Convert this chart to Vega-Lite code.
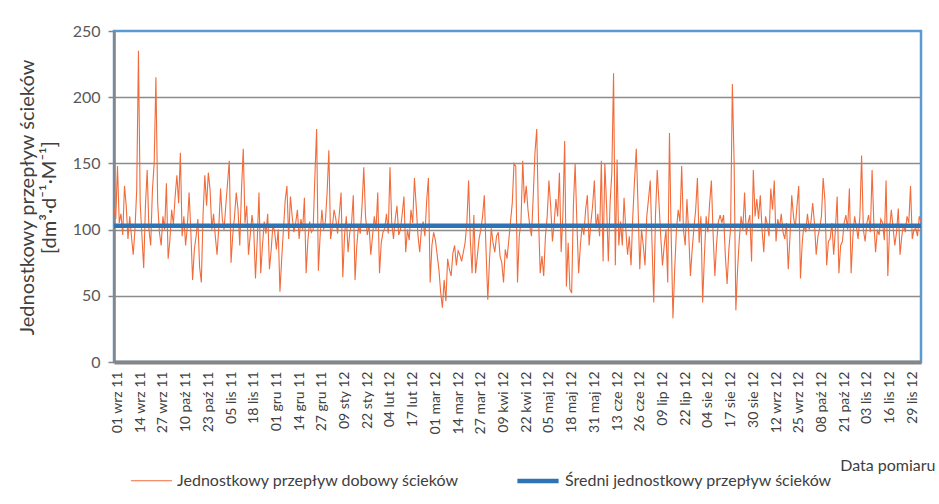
{
  "$schema": "https://vega.github.io/schema/vega-lite/v6.json",
  "width": 807,
  "height": 331,
  "autosize": "none",
  "padding": {"left": 114, "top": 31, "right": 18, "bottom": 142},
  "background": "white",
  "config": {
    "font": "Lato",
    "view": {"stroke": "#5B9BD5", "strokeWidth": 2.5}
  },
  "datasets": {
    "daily": [
      {"d":"2011-08-30","v":116},{"d":"2011-08-31","v":108},
      {"d":"2011-09-01","v":148},{"d":"2011-09-02","v":105},{"d":"2011-09-03","v":112},{"d":"2011-09-04","v":96},{"d":"2011-09-05","v":133},{"d":"2011-09-06","v":118},{"d":"2011-09-07","v":93},{"d":"2011-09-08","v":110},{"d":"2011-09-09","v":95},{"d":"2011-09-10","v":81},{"d":"2011-09-11","v":100},{"d":"2011-09-12","v":130},{"d":"2011-09-13","v":235},{"d":"2011-09-14","v":120},{"d":"2011-09-15","v":95},{"d":"2011-09-16","v":71},{"d":"2011-09-17","v":118},{"d":"2011-09-18","v":145},{"d":"2011-09-19","v":100},{"d":"2011-09-20","v":88},{"d":"2011-09-21","v":130},{"d":"2011-09-22","v":150},{"d":"2011-09-23","v":215},{"d":"2011-09-24","v":120},{"d":"2011-09-25","v":98},{"d":"2011-09-26","v":88},{"d":"2011-09-27","v":110},{"d":"2011-09-28","v":100},{"d":"2011-09-29","v":135},{"d":"2011-09-30","v":78},
      {"d":"2011-10-01","v":92},{"d":"2011-10-02","v":115},{"d":"2011-10-03","v":104},{"d":"2011-10-04","v":125},{"d":"2011-10-05","v":141},{"d":"2011-10-06","v":120},{"d":"2011-10-07","v":158},{"d":"2011-10-08","v":95},{"d":"2011-10-09","v":110},{"d":"2011-10-10","v":88},{"d":"2011-10-11","v":103},{"d":"2011-10-12","v":128},{"d":"2011-10-13","v":98},{"d":"2011-10-14","v":62},{"d":"2011-10-15","v":85},{"d":"2011-10-16","v":95},{"d":"2011-10-17","v":108},{"d":"2011-10-18","v":72},{"d":"2011-10-19","v":60},{"d":"2011-10-20","v":112},{"d":"2011-10-21","v":141},{"d":"2011-10-22","v":118},{"d":"2011-10-23","v":143},{"d":"2011-10-24","v":130},{"d":"2011-10-25","v":100},{"d":"2011-10-26","v":112},{"d":"2011-10-27","v":95},{"d":"2011-10-28","v":81},{"d":"2011-10-29","v":102},{"d":"2011-10-30","v":131},{"d":"2011-10-31","v":108},
      {"d":"2011-11-01","v":100},{"d":"2011-11-02","v":118},{"d":"2011-11-03","v":135},{"d":"2011-11-04","v":152},{"d":"2011-11-05","v":75},{"d":"2011-11-06","v":96},{"d":"2011-11-07","v":110},{"d":"2011-11-08","v":128},{"d":"2011-11-09","v":115},{"d":"2011-11-10","v":88},{"d":"2011-11-11","v":130},{"d":"2011-11-12","v":161},{"d":"2011-11-13","v":105},{"d":"2011-11-14","v":118},{"d":"2011-11-15","v":81},{"d":"2011-11-16","v":96},{"d":"2011-11-17","v":111},{"d":"2011-11-18","v":100},{"d":"2011-11-19","v":63},{"d":"2011-11-20","v":92},{"d":"2011-11-21","v":128},{"d":"2011-11-22","v":67},{"d":"2011-11-23","v":88},{"d":"2011-11-24","v":106},{"d":"2011-11-25","v":97},{"d":"2011-11-26","v":112},{"d":"2011-11-27","v":70},{"d":"2011-11-28","v":85},{"d":"2011-11-29","v":104},{"d":"2011-11-30","v":98},
      {"d":"2011-12-01","v":85},{"d":"2011-12-02","v":100},{"d":"2011-12-03","v":53},{"d":"2011-12-04","v":78},{"d":"2011-12-05","v":100},{"d":"2011-12-06","v":122},{"d":"2011-12-07","v":133},{"d":"2011-12-08","v":93},{"d":"2011-12-09","v":125},{"d":"2011-12-10","v":110},{"d":"2011-12-11","v":98},{"d":"2011-12-12","v":105},{"d":"2011-12-13","v":115},{"d":"2011-12-14","v":93},{"d":"2011-12-15","v":108},{"d":"2011-12-16","v":100},{"d":"2011-12-17","v":124},{"d":"2011-12-18","v":67},{"d":"2011-12-19","v":92},{"d":"2011-12-20","v":106},{"d":"2011-12-21","v":98},{"d":"2011-12-22","v":100},{"d":"2011-12-23","v":140},{"d":"2011-12-24","v":176},{"d":"2011-12-25","v":69},{"d":"2011-12-26","v":95},{"d":"2011-12-27","v":115},{"d":"2011-12-28","v":100},{"d":"2011-12-29","v":106},{"d":"2011-12-30","v":128},{"d":"2011-12-31","v":160},
      {"d":"2012-01-01","v":93},{"d":"2012-01-02","v":102},{"d":"2012-01-03","v":115},{"d":"2012-01-04","v":108},{"d":"2012-01-05","v":97},{"d":"2012-01-06","v":112},{"d":"2012-01-07","v":128},{"d":"2012-01-08","v":64},{"d":"2012-01-09","v":96},{"d":"2012-01-10","v":110},{"d":"2012-01-11","v":83},{"d":"2012-01-12","v":98},{"d":"2012-01-13","v":105},{"d":"2012-01-14","v":126},{"d":"2012-01-15","v":62},{"d":"2012-01-16","v":88},{"d":"2012-01-17","v":103},{"d":"2012-01-18","v":97},{"d":"2012-01-19","v":118},{"d":"2012-01-20","v":147},{"d":"2012-01-21","v":110},{"d":"2012-01-22","v":96},{"d":"2012-01-23","v":104},{"d":"2012-01-24","v":81},{"d":"2012-01-25","v":95},{"d":"2012-01-26","v":110},{"d":"2012-01-27","v":100},{"d":"2012-01-28","v":128},{"d":"2012-01-29","v":67},{"d":"2012-01-30","v":90},{"d":"2012-01-31","v":98},
      {"d":"2012-02-01","v":101},{"d":"2012-02-02","v":112},{"d":"2012-02-03","v":97},{"d":"2012-02-04","v":147},{"d":"2012-02-05","v":105},{"d":"2012-02-06","v":93},{"d":"2012-02-07","v":108},{"d":"2012-02-08","v":118},{"d":"2012-02-09","v":96},{"d":"2012-02-10","v":100},{"d":"2012-02-11","v":112},{"d":"2012-02-12","v":125},{"d":"2012-02-13","v":83},{"d":"2012-02-14","v":100},{"d":"2012-02-15","v":92},{"d":"2012-02-16","v":115},{"d":"2012-02-17","v":105},{"d":"2012-02-18","v":139},{"d":"2012-02-19","v":118},{"d":"2012-02-20","v":96},{"d":"2012-02-21","v":83},{"d":"2012-02-22","v":100},{"d":"2012-02-23","v":106},{"d":"2012-02-24","v":95},{"d":"2012-02-25","v":122},{"d":"2012-02-26","v":139},{"d":"2012-02-27","v":60},{"d":"2012-02-28","v":88},{"d":"2012-02-29","v":98},
      {"d":"2012-03-01","v":92},{"d":"2012-03-02","v":81},{"d":"2012-03-03","v":70},{"d":"2012-03-04","v":53},{"d":"2012-03-05","v":41},{"d":"2012-03-06","v":62},{"d":"2012-03-07","v":46},{"d":"2012-03-08","v":78},{"d":"2012-03-09","v":70},{"d":"2012-03-10","v":65},{"d":"2012-03-11","v":82},{"d":"2012-03-12","v":88},{"d":"2012-03-13","v":73},{"d":"2012-03-14","v":84},{"d":"2012-03-15","v":81},{"d":"2012-03-16","v":76},{"d":"2012-03-17","v":83},{"d":"2012-03-18","v":90},{"d":"2012-03-19","v":105},{"d":"2012-03-20","v":137},{"d":"2012-03-21","v":92},{"d":"2012-03-22","v":67},{"d":"2012-03-23","v":111},{"d":"2012-03-24","v":67},{"d":"2012-03-25","v":80},{"d":"2012-03-26","v":93},{"d":"2012-03-27","v":100},{"d":"2012-03-28","v":110},{"d":"2012-03-29","v":126},{"d":"2012-03-30","v":84},{"d":"2012-03-31","v":47},
      {"d":"2012-04-01","v":78},{"d":"2012-04-02","v":101},{"d":"2012-04-03","v":90},{"d":"2012-04-04","v":83},{"d":"2012-04-05","v":95},{"d":"2012-04-06","v":98},{"d":"2012-04-07","v":80},{"d":"2012-04-08","v":75},{"d":"2012-04-09","v":60},{"d":"2012-04-10","v":85},{"d":"2012-04-11","v":78},{"d":"2012-04-12","v":92},{"d":"2012-04-13","v":106},{"d":"2012-04-14","v":120},{"d":"2012-04-15","v":150},{"d":"2012-04-16","v":148},{"d":"2012-04-17","v":60},{"d":"2012-04-18","v":95},{"d":"2012-04-19","v":106},{"d":"2012-04-20","v":152},{"d":"2012-04-21","v":120},{"d":"2012-04-22","v":133},{"d":"2012-04-23","v":115},{"d":"2012-04-24","v":103},{"d":"2012-04-25","v":95},{"d":"2012-04-26","v":125},{"d":"2012-04-27","v":158},{"d":"2012-04-28","v":176},{"d":"2012-04-29","v":110},{"d":"2012-04-30","v":67},
      {"d":"2012-05-01","v":80},{"d":"2012-05-02","v":65},{"d":"2012-05-03","v":95},{"d":"2012-05-04","v":110},{"d":"2012-05-05","v":137},{"d":"2012-05-06","v":118},{"d":"2012-05-07","v":91},{"d":"2012-05-08","v":105},{"d":"2012-05-09","v":123},{"d":"2012-05-10","v":110},{"d":"2012-05-11","v":143},{"d":"2012-05-12","v":83},{"d":"2012-05-13","v":112},{"d":"2012-05-14","v":167},{"d":"2012-05-15","v":57},{"d":"2012-05-16","v":90},{"d":"2012-05-17","v":55},{"d":"2012-05-18","v":52},{"d":"2012-05-19","v":118},{"d":"2012-05-20","v":150},{"d":"2012-05-21","v":105},{"d":"2012-05-22","v":67},{"d":"2012-05-23","v":88},{"d":"2012-05-24","v":103},{"d":"2012-05-25","v":96},{"d":"2012-05-26","v":115},{"d":"2012-05-27","v":126},{"d":"2012-05-28","v":88},{"d":"2012-05-29","v":105},{"d":"2012-05-30","v":118},{"d":"2012-05-31","v":137},
      {"d":"2012-06-01","v":101},{"d":"2012-06-02","v":112},{"d":"2012-06-03","v":95},{"d":"2012-06-04","v":152},{"d":"2012-06-05","v":76},{"d":"2012-06-06","v":150},{"d":"2012-06-07","v":118},{"d":"2012-06-08","v":76},{"d":"2012-06-09","v":120},{"d":"2012-06-10","v":143},{"d":"2012-06-11","v":218},{"d":"2012-06-12","v":73},{"d":"2012-06-13","v":153},{"d":"2012-06-14","v":88},{"d":"2012-06-15","v":106},{"d":"2012-06-16","v":88},{"d":"2012-06-17","v":124},{"d":"2012-06-18","v":100},{"d":"2012-06-19","v":81},{"d":"2012-06-20","v":95},{"d":"2012-06-21","v":73},{"d":"2012-06-22","v":110},{"d":"2012-06-23","v":137},{"d":"2012-06-24","v":161},{"d":"2012-06-25","v":118},{"d":"2012-06-26","v":70},{"d":"2012-06-27","v":100},{"d":"2012-06-28","v":88},{"d":"2012-06-29","v":73},{"d":"2012-06-30","v":110},
      {"d":"2012-07-01","v":123},{"d":"2012-07-02","v":137},{"d":"2012-07-03","v":90},{"d":"2012-07-04","v":45},{"d":"2012-07-05","v":111},{"d":"2012-07-06","v":145},{"d":"2012-07-07","v":120},{"d":"2012-07-08","v":95},{"d":"2012-07-09","v":73},{"d":"2012-07-10","v":88},{"d":"2012-07-11","v":100},{"d":"2012-07-12","v":60},{"d":"2012-07-13","v":173},{"d":"2012-07-14","v":95},{"d":"2012-07-15","v":33},{"d":"2012-07-16","v":70},{"d":"2012-07-17","v":100},{"d":"2012-07-18","v":115},{"d":"2012-07-19","v":106},{"d":"2012-07-20","v":148},{"d":"2012-07-21","v":100},{"d":"2012-07-22","v":88},{"d":"2012-07-23","v":123},{"d":"2012-07-24","v":98},{"d":"2012-07-25","v":65},{"d":"2012-07-26","v":85},{"d":"2012-07-27","v":101},{"d":"2012-07-28","v":115},{"d":"2012-07-29","v":139},{"d":"2012-07-30","v":90},{"d":"2012-07-31","v":110},
      {"d":"2012-08-01","v":45},{"d":"2012-08-02","v":80},{"d":"2012-08-03","v":110},{"d":"2012-08-04","v":98},{"d":"2012-08-05","v":120},{"d":"2012-08-06","v":137},{"d":"2012-08-07","v":96},{"d":"2012-08-08","v":65},{"d":"2012-08-09","v":90},{"d":"2012-08-10","v":106},{"d":"2012-08-11","v":111},{"d":"2012-08-12","v":105},{"d":"2012-08-13","v":111},{"d":"2012-08-14","v":80},{"d":"2012-08-15","v":59},{"d":"2012-08-16","v":85},{"d":"2012-08-17","v":101},{"d":"2012-08-18","v":210},{"d":"2012-08-19","v":152},{"d":"2012-08-20","v":39},{"d":"2012-08-21","v":70},{"d":"2012-08-22","v":93},{"d":"2012-08-23","v":110},{"d":"2012-08-24","v":100},{"d":"2012-08-25","v":128},{"d":"2012-08-26","v":96},{"d":"2012-08-27","v":105},{"d":"2012-08-28","v":111},{"d":"2012-08-29","v":76},{"d":"2012-08-30","v":145},{"d":"2012-08-31","v":110},
      {"d":"2012-09-01","v":123},{"d":"2012-09-02","v":108},{"d":"2012-09-03","v":126},{"d":"2012-09-04","v":100},{"d":"2012-09-05","v":83},{"d":"2012-09-06","v":110},{"d":"2012-09-07","v":104},{"d":"2012-09-08","v":95},{"d":"2012-09-09","v":131},{"d":"2012-09-10","v":115},{"d":"2012-09-11","v":137},{"d":"2012-09-12","v":91},{"d":"2012-09-13","v":108},{"d":"2012-09-14","v":101},{"d":"2012-09-15","v":112},{"d":"2012-09-16","v":98},{"d":"2012-09-17","v":93},{"d":"2012-09-18","v":105},{"d":"2012-09-19","v":70},{"d":"2012-09-20","v":95},{"d":"2012-09-21","v":126},{"d":"2012-09-22","v":110},{"d":"2012-09-23","v":101},{"d":"2012-09-24","v":118},{"d":"2012-09-25","v":133},{"d":"2012-09-26","v":63},{"d":"2012-09-27","v":90},{"d":"2012-09-28","v":104},{"d":"2012-09-29","v":98},{"d":"2012-09-30","v":112},
      {"d":"2012-10-01","v":100},{"d":"2012-10-02","v":106},{"d":"2012-10-03","v":120},{"d":"2012-10-04","v":105},{"d":"2012-10-05","v":81},{"d":"2012-10-06","v":95},{"d":"2012-10-07","v":101},{"d":"2012-10-08","v":110},{"d":"2012-10-09","v":139},{"d":"2012-10-10","v":122},{"d":"2012-10-11","v":73},{"d":"2012-10-12","v":91},{"d":"2012-10-13","v":93},{"d":"2012-10-14","v":105},{"d":"2012-10-15","v":81},{"d":"2012-10-16","v":100},{"d":"2012-10-17","v":125},{"d":"2012-10-18","v":67},{"d":"2012-10-19","v":88},{"d":"2012-10-20","v":91},{"d":"2012-10-21","v":105},{"d":"2012-10-22","v":111},{"d":"2012-10-23","v":100},{"d":"2012-10-24","v":131},{"d":"2012-10-25","v":67},{"d":"2012-10-26","v":95},{"d":"2012-10-27","v":110},{"d":"2012-10-28","v":102},{"d":"2012-10-29","v":93},{"d":"2012-10-30","v":110},{"d":"2012-10-31","v":156},
      {"d":"2012-11-01","v":100},{"d":"2012-11-02","v":91},{"d":"2012-11-03","v":105},{"d":"2012-11-04","v":111},{"d":"2012-11-05","v":98},{"d":"2012-11-06","v":145},{"d":"2012-11-07","v":105},{"d":"2012-11-08","v":83},{"d":"2012-11-09","v":100},{"d":"2012-11-10","v":96},{"d":"2012-11-11","v":108},{"d":"2012-11-12","v":105},{"d":"2012-11-13","v":92},{"d":"2012-11-14","v":137},{"d":"2012-11-15","v":65},{"d":"2012-11-16","v":100},{"d":"2012-11-17","v":115},{"d":"2012-11-18","v":102},{"d":"2012-11-19","v":88},{"d":"2012-11-20","v":98},{"d":"2012-11-21","v":116},{"d":"2012-11-22","v":81},{"d":"2012-11-23","v":95},{"d":"2012-11-24","v":104},{"d":"2012-11-25","v":98},{"d":"2012-11-26","v":110},{"d":"2012-11-27","v":105},{"d":"2012-11-28","v":133},{"d":"2012-11-29","v":93},{"d":"2012-11-30","v":100},
      {"d":"2012-12-01","v":101},{"d":"2012-12-02","v":95},{"d":"2012-12-03","v":110},{"d":"2012-12-04","v":106}
    ],
    "mean": [{"s": "Średni jednostkowy przepływ ścieków", "v": 103}]
  },
  "layer": [
    {
      "data": {"name": "daily"},
      "mark": {"type": "line", "interpolate": "linear"},
      "encoding": {
        "x": {
          "field": "d",
          "type": "temporal",
          "scale": {
            "type": "utc",
            "domain": [
              {"year": 2011, "month": 8, "date": 30, "utc": true},
              {"year": 2012, "month": 12, "date": 4, "utc": true}
            ]
          },
          "axis": {
            "values": [
              {"year":2011,"month":9,"date":1,"utc":true},{"year":2011,"month":9,"date":14,"utc":true},{"year":2011,"month":9,"date":27,"utc":true},
              {"year":2011,"month":10,"date":10,"utc":true},{"year":2011,"month":10,"date":23,"utc":true},{"year":2011,"month":11,"date":5,"utc":true},
              {"year":2011,"month":11,"date":18,"utc":true},{"year":2011,"month":12,"date":1,"utc":true},{"year":2011,"month":12,"date":14,"utc":true},
              {"year":2011,"month":12,"date":27,"utc":true},{"year":2012,"month":1,"date":9,"utc":true},{"year":2012,"month":1,"date":22,"utc":true},
              {"year":2012,"month":2,"date":4,"utc":true},{"year":2012,"month":2,"date":17,"utc":true},{"year":2012,"month":3,"date":1,"utc":true},
              {"year":2012,"month":3,"date":14,"utc":true},{"year":2012,"month":3,"date":27,"utc":true},{"year":2012,"month":4,"date":9,"utc":true},
              {"year":2012,"month":4,"date":22,"utc":true},{"year":2012,"month":5,"date":5,"utc":true},{"year":2012,"month":5,"date":18,"utc":true},
              {"year":2012,"month":5,"date":31,"utc":true},{"year":2012,"month":6,"date":13,"utc":true},{"year":2012,"month":6,"date":26,"utc":true},
              {"year":2012,"month":7,"date":9,"utc":true},{"year":2012,"month":7,"date":22,"utc":true},{"year":2012,"month":8,"date":4,"utc":true},
              {"year":2012,"month":8,"date":17,"utc":true},{"year":2012,"month":8,"date":30,"utc":true},{"year":2012,"month":9,"date":12,"utc":true},
              {"year":2012,"month":9,"date":25,"utc":true},{"year":2012,"month":10,"date":8,"utc":true},{"year":2012,"month":10,"date":21,"utc":true},
              {"year":2012,"month":11,"date":3,"utc":true},{"year":2012,"month":11,"date":16,"utc":true},{"year":2012,"month":11,"date":29,"utc":true}
            ],
            "labelExpr": "utcFormat(datum.value, '%d') + ' ' + ['sty','lut','mar','kwi','maj','cze','lip','sie','wrz','paź','lis','gru'][utcmonth(datum.value)] + ' ' + utcFormat(datum.value, '%y')",
            "labelAngle": 270,
            "labelAlign": "right",
            "labelBaseline": "middle",
            "labelFontSize": 14,
            "labelColor": "#404040",
            "labelPadding": 9,
            "labelOverlap": false,
            "labelFlush": false,
            "ticks": false,
            "grid": false,
            "domainColor": "#868686",
            "domainWidth": 4,
            "title": "Data pomiaru",
            "titleFontSize": 16,
            "titleFontWeight": "normal",
            "titleColor": "#404040",
            "titleAnchor": "end",
            "titleAlign": "right",
            "titleBaseline": "middle",
            "titleX": 821,
            "titleY": 103
          }
        },
        "y": {
          "field": "v",
          "type": "quantitative",
          "scale": {"domain": [0, 250], "nice": false, "zero": true},
          "axis": {
            "values": [0, 50, 100, 150, 200, 250],
            "grid": true,
            "gridColor": "#8C8C8C",
            "gridWidth": 1.5,
            "gridOpacity": {"condition": {"test": "datum.value === 250", "value": 0}, "value": 1},
            "domainColor": "#868686",
            "domainWidth": 2.5,
            "tickColor": "#868686",
            "tickSize": 6,
            "tickWidth": 1.5,
            "labelFontSize": 16,
            "labelColor": "#595959",
            "labelPadding": 8,
            "title": ["Jednostkowy przepływ ścieków", "[dm³·d⁻¹·M⁻¹]"],
            "titleFontSize": 20,
            "titleFontWeight": "normal",
            "titleColor": "#404040",
            "titleLineHeight": 22,
            "titleAngle": 270,
            "titleAlign": "center",
            "titleBaseline": "bottom",
            "titleX": -77,
            "titleY": 166
          }
        },
        "color": {
          "datum": "Jednostkowy przepływ dobowy ścieków",
          "type": "nominal",
          "scale": {
            "domain": ["Jednostkowy przepływ dobowy ścieków", "Średni jednostkowy przepływ ścieków"],
            "range": ["#F26B3A", "#2E74B5"]
          },
          "legend": {
            "title": null,
            "orient": "none",
            "legendX": 16,
            "legendY": 427,
            "direction": "horizontal",
            "symbolType": "stroke",
            "symbolSize": 1700,
            "labelFontSize": 16,
            "labelColor": "#404040",
            "labelOffset": 4,
            "labelLimit": 600,
            "columnPadding": 48
          }
        },
        "strokeWidth": {
          "datum": "Jednostkowy przepływ dobowy ścieków",
          "type": "ordinal",
          "scale": {
            "domain": ["Jednostkowy przepływ dobowy ścieków", "Średni jednostkowy przepływ ścieków"],
            "range": [1.1, 4.5]
          },
          "legend": {
            "title": null,
            "orient": "none",
            "legendX": 16,
            "legendY": 427,
            "direction": "horizontal",
            "symbolType": "stroke",
            "symbolSize": 1700,
            "labelFontSize": 16,
            "labelColor": "#404040",
            "labelOffset": 4,
            "labelLimit": 600,
            "columnPadding": 48
          }
        }
      }
    },
    {
      "data": {"name": "mean"},
      "mark": {"type": "rule"},
      "encoding": {
        "y": {"field": "v", "type": "quantitative"},
        "color": {"field": "s", "type": "nominal", "title": null},
        "strokeWidth": {"field": "s", "type": "ordinal", "title": null}
      }
    }
  ]
}
